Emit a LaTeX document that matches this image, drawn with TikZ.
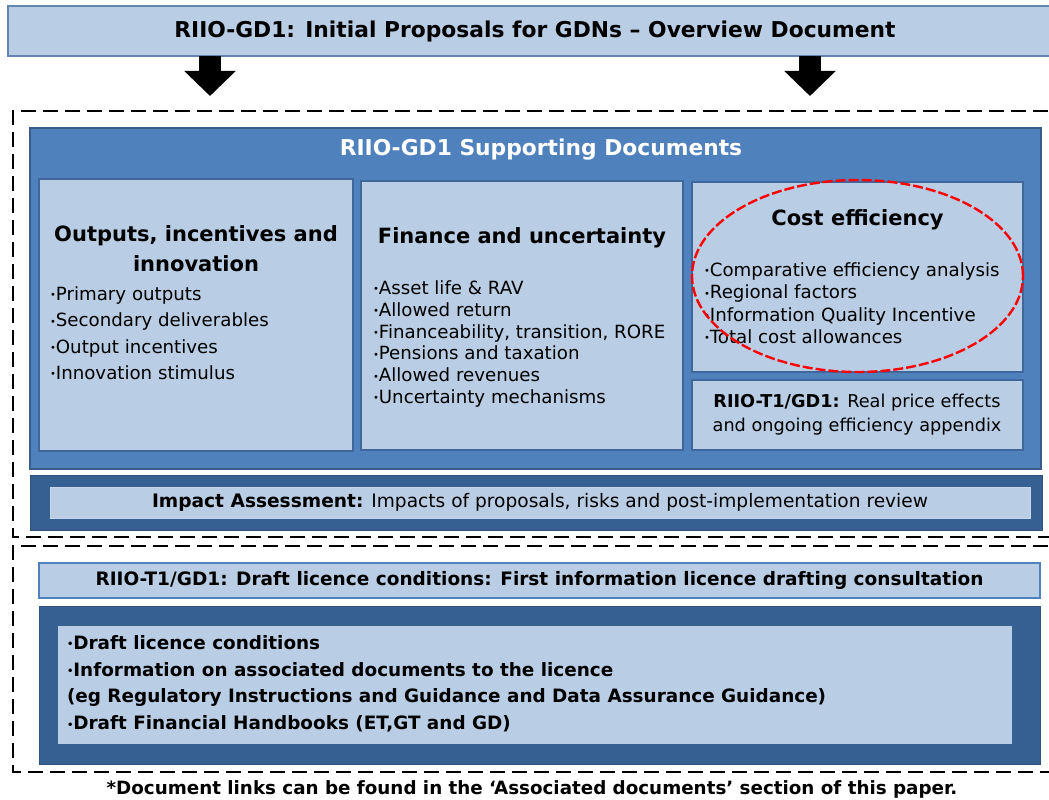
\documentclass[tikz,border=0pt]{standalone}
\usepackage{fontspec}
\setmainfont{DejaVu Sans}
\usetikzlibrary{arrows.meta,shapes.geometric}

\definecolor{paleblue}{HTML}{B9CDE5}
\definecolor{midblue}{HTML}{4F81BD}
\definecolor{deepblue}{HTML}{376092}
\definecolor{edgeblue}{HTML}{3F679B}
\definecolor{ringred}{HTML}{FF0000}

\newcommand{\dotmark}{\raisebox{1.6pt}{\fontsize{10}{10}\selectfont •}}
\newcommand{\bodysize}{\fontsize{18.2}{22}\selectfont}
\newcommand{\headsize}{\fontsize{21}{30}\selectfont}

\begin{document}
\begin{tikzpicture}[x=1pt,y=-1pt,
  panel/.style={anchor=north west, inner sep=0pt, outer sep=0pt},
  palebox/.style={panel, fill=paleblue, draw=edgeblue, line width=2pt},
  bluebox/.style={panel, fill=midblue, draw=edgeblue!90!black, line width=1.5pt},
  deepbox/.style={panel, fill=deepblue, draw=deepblue!85!black, line width=1pt},
  zone/.style={draw=black, line width=2.6pt, dash pattern=on 15pt off 7pt},
  blockarrow/.style={line width=22pt, -{Triangle[width=50pt,length=25pt]}},
  txt/.style={inner sep=0pt, outer sep=0pt},
  item/.style={txt, anchor=base west, font=\bodysize},
  heading/.style={txt, font=\headsize\bfseries, align=center}
]
\useasboundingbox (0,0) rectangle (1049,800);

% dashed grouping frames (their right edges run past the page)
\draw[zone] (1070,111) -- (13,111) -- (13,537) -- (1070,537);
\draw[zone] (1070,546) -- (13,546) -- (13,772) -- (1070,772);

% overview banner
\node[palebox, draw=edgeblue!80, minimum width=1054pt, minimum height=50pt,
      font=\fontsize{21.8}{24}\selectfont\bfseries] (banner) at (8,6)
      {RIIO-GD1: Initial Proposals for GDNs – Overview Document};

% block arrows from the banner down to the supporting documents
\coordinate (arrowAtop) at (210,56);
\coordinate (arrowAend) at (210,96);
\coordinate (arrowBtop) at (810,56);
\coordinate (arrowBend) at (810,96);
\draw[blockarrow] (arrowAtop) -- (arrowAend);
\draw[blockarrow] (arrowBtop) -- (arrowBend);

% supporting documents panel
\node[bluebox, minimum width=1011pt, minimum height=341pt] (support) at (30,128) {};
\node[txt, text=white, font=\fontsize{21.8}{24}\selectfont\bfseries] (supporttitle) at (541,150)
  {RIIO-GD1 Supporting Documents};

% three topic columns
\node[palebox, minimum width=314pt, minimum height=272pt] (outputs) at (39,179) {};
\node[palebox, minimum width=322pt, minimum height=269pt] (finance) at (361,181) {};
\node[palebox, minimum width=331pt, minimum height=190pt] (cost) at (692,182) {};
\node[palebox, minimum width=331pt, minimum height=70pt] (realprice) at (692,380) {};

\node[heading] (outputshead) at (196,249) {Outputs, incentives and\\innovation};
\foreach \t [count=\i] in {Primary outputs, Secondary deliverables, Output incentives, Innovation stimulus}
  \node[item] (outitem\i) at (50,{300.5+26.3*(\i-1)}) {\dotmark\t};

\node[heading] (financehead) at (522,238) {Finance and uncertainty};
\foreach \t [count=\i] in {Asset life \& RAV, Allowed return, {Financeability, transition, RORE},
                           Pensions and taxation, Allowed revenues, Uncertainty mechanisms}
  \node[item] (finitem\i) at (373,{294.5+21.8*(\i-1)}) {\dotmark\t};

\node[heading] (costhead) at (857.5,220) {Cost efficiency};
\foreach \t [count=\i] in {Comparative efficiency analysis, Regional factors,
                           Information Quality Incentive, Total cost allowances}
  \node[item] (costitem\i) at (704,{276.5+22.3*(\i-1)}) {\dotmark\t};

\node[txt, align=center, font=\fontsize{17.7}{24}\selectfont] (realpricetext) at (857,415)
  {\textbf{RIIO-T1/GD1:} Real price effects\\and ongoing efficiency appendix};

% highlight ring around the cost efficiency topics
\node[ellipse, draw=ringred, line width=2.4pt, dash pattern=on 10pt off 3pt,
      minimum width=331pt, minimum height=192pt, inner sep=0pt] (ring) at (857.5,276) {};

% impact assessment strip
\node[deepbox, minimum width=1012pt, minimum height=55pt] (impact) at (30,475) {};
\node[panel, fill=paleblue, draw=paleblue!80!white, line width=1pt,
      minimum width=980pt, minimum height=31pt, font=\fontsize{18.6}{20}\selectfont] (impacttext) at (50,487)
  {\textbf{Impact Assessment:} Impacts of proposals, risks and post-implementation review};

% licence drafting consultation
\node[palebox, draw=midblue, minimum width=1001pt, minimum height=35pt,
      font=\fontsize{18.5}{20}\selectfont\bfseries] (licencehead) at (39,563)
  {RIIO-T1/GD1: Draft licence conditions: First information licence drafting consultation};
\node[deepbox, minimum width=1001pt, minimum height=158pt] (licence) at (39,606) {};
\node[panel, fill=paleblue, minimum width=954pt, minimum height=118pt] (licenceinner) at (58,626) {};
\foreach \t [count=\i] in {\dotmark Draft licence conditions,
                           \dotmark Information on associated documents to the licence,
                           (eg Regulatory Instructions and Guidance and Data Assurance Guidance),
                           \dotmark{Draft Financial Handbooks (ET,GT and GD)}}
  \node[item, font=\fontsize{18.4}{20}\selectfont\bfseries] (licitem\i) at (67,{649.5+26.7*(\i-1)}) {\t};

% footnote
\node[txt, font=\fontsize{18.3}{20}\selectfont\bfseries] (footnote) at (532,789)
  {*Document links can be found in the ‘Associated documents’ section of this paper.};
\end{tikzpicture}
\end{document}
